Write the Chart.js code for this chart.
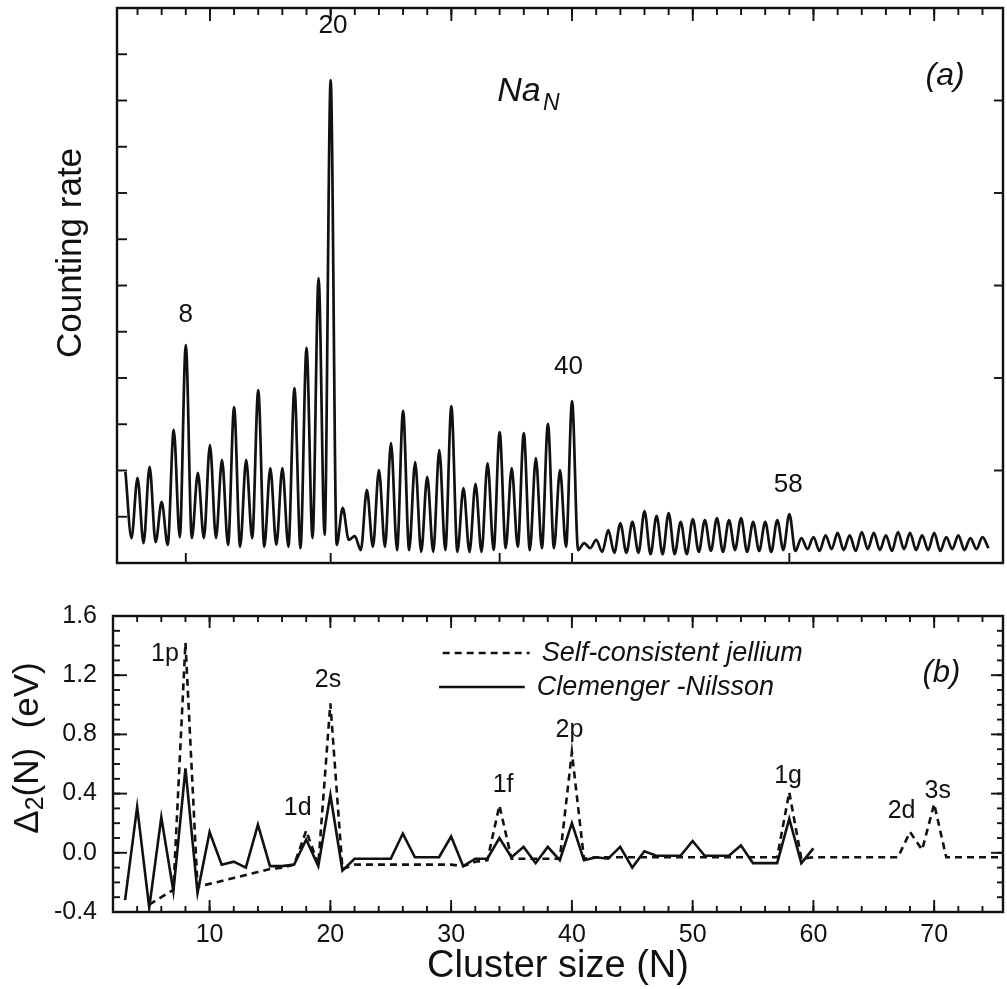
<!DOCTYPE html>
<html>
<head>
<meta charset="utf-8">
<script src="https://cdn.jsdelivr.net/npm/chart.js@4.4.1/dist/chart.umd.min.js"></script>
<style>
  html, body { margin: 0; padding: 0; background: #fff; }
  #wrap { position: relative; width: 1007px; height: 989px; }
  canvas { position: absolute; left: 0; }
  #spectrum { top: 0; }
  #gap { top: 585px; }
</style>
</head>
<body>
<div id="wrap">
  <canvas id="spectrum" width="1007" height="585"></canvas>
  <canvas id="gap" width="1007" height="404"></canvas>
</div>
<script>
// (a) mass spectrum of Na_N: one peak per cluster size, trough half way to the next
const sizes = [3, 4, 5, 6, 7, 8, 9, 10, 11, 12, 13, 14, 15, 16, 17, 18, 19, 20, 21, 22, 23, 24, 25, 26,
  27, 28, 29, 30, 31, 32, 33, 34, 35, 36, 37, 38, 39, 40, 41, 42, 43, 44, 45, 46, 47, 48, 49, 50,
  51, 52, 53, 54, 55, 56, 57, 58, 59, 60, 61, 62, 63, 64, 65, 66, 67, 68, 69, 70, 71, 72, 73, 74];
const peakRate = [1.97, 1.84, 2.08, 1.32, 2.88, 4.71, 1.95, 2.55, 2.23, 3.37, 2.23, 3.74, 2.05, 2.05,
  3.78, 4.65, 6.16, 10.44, 1.19, 0.58, 1.58, 2.01, 2.59, 3.29, 2.18, 1.86, 2.44, 3.39, 1.62, 1.71,
  2.16, 2.83, 2.05, 2.81, 2.27, 3.01, 2.01, 3.50, 0.43, 0.50, 0.71, 0.86, 0.89, 1.12, 1.02, 1.08,
  0.89, 0.95, 0.93, 0.97, 0.93, 0.97, 0.89, 0.89, 0.93, 1.06, 0.54, 0.56, 0.60, 0.65, 0.60, 0.67,
  0.65, 0.60, 0.67, 0.65, 0.60, 0.65, 0.56, 0.60, 0.54, 0.56];
const troughRate = [0.54, 0.43, 0.45, 0.39, 0.56, 0.54, 0.54, 0.54, 0.39, 0.35, 0.54, 0.35, 0.39, 0.35,
  0.32, 0.54, 0.61, 0.39, 0.50, 0.28, 0.35, 0.35, 0.28, 0.28, 0.24, 0.24, 0.28, 0.24, 0.24, 0.24,
  0.28, 0.32, 0.35, 0.28, 0.32, 0.32, 0.35, 0.28, 0.32, 0.24, 0.22, 0.22, 0.22, 0.19, 0.19, 0.19,
  0.19, 0.24, 0.26, 0.24, 0.28, 0.24, 0.26, 0.24, 0.28, 0.26, 0.30, 0.26, 0.30, 0.28, 0.26, 0.30,
  0.28, 0.26, 0.30, 0.28, 0.28, 0.26, 0.30, 0.28, 0.30, 0.32];
const magicSizes = [8, 20, 34, 40, 58];

// (b) Delta_2(N) in eV
const sizesCN = [3, 4, 5, 6, 7, 8, 9, 10, 11, 12, 13, 14, 15, 16, 17, 18, 19, 20, 21, 22, 23, 24, 25,
  26, 27, 28, 29, 30, 31, 32, 33, 34, 35, 36, 37, 38, 39, 40, 41, 42, 43, 44, 45, 46, 47, 48, 49,
  50, 51, 52, 53, 54, 55, 56, 57, 58, 59, 60];
const gapCN = [-0.32, 0.31, -0.37, 0.24, -0.26, 0.57, -0.27, 0.14, -0.08, -0.06, -0.10, 0.19, -0.09,
  -0.09, -0.08, 0.09, -0.09, 0.39, -0.12, -0.04, -0.04, -0.04, -0.04, 0.13, -0.03, -0.03, -0.03,
  0.11, -0.09, -0.04, -0.04, 0.10, -0.03, 0.04, -0.07, 0.04, -0.05, 0.20, -0.05, -0.03, -0.04,
  0.04, -0.10, 0.01, -0.02, -0.02, -0.02, 0.08, -0.02, -0.02, -0.02, 0.05, -0.07, -0.07, -0.07,
  0.23, -0.07, 0.03];
const sizesJellium = [5, 6, 7, 8, 9, 10, 11, 12, 13, 14, 15, 16, 17, 18, 19, 20, 21, 22, 23, 24, 25,
  26, 27, 28, 29, 30, 31, 32, 33, 34, 35, 36, 37, 38, 39, 40, 41, 42, 43, 44, 45, 46, 47, 48, 49,
  50, 51, 52, 53, 54, 55, 56, 57, 58, 59, 60, 61, 62, 63, 64, 65, 66, 67, 68, 69, 70, 71, 72, 73,
  74, 75, 76];
const gapJellium = [-0.35, -0.30, -0.25, 1.42, -0.23, -0.21, -0.19, -0.17, -0.15, -0.13, -0.11, -0.10,
  -0.08, 0.15, -0.08, 1.01, -0.11, -0.08, -0.08, -0.08, -0.08, -0.08, -0.08, -0.08, -0.08, -0.08,
  -0.09, -0.06, -0.05, 0.32, -0.04, -0.04, -0.04, -0.04, -0.04, 0.68, -0.04, -0.03, -0.03, -0.03,
  -0.03, -0.03, -0.03, -0.03, -0.03, -0.03, -0.03, -0.03, -0.03, -0.03, -0.03, -0.03, -0.03, 0.41,
  -0.04, -0.03, -0.03, -0.03, -0.03, -0.03, -0.03, -0.03, -0.03, 0.14, 0.02, 0.33, -0.03, -0.03,
  -0.03, -0.03, -0.03, -0.03];

const xTickValues = [10, 20, 30, 40, 50, 60, 70];
const yTickValues = [-0.4, 0.0, 0.4, 0.8, 1.2, 1.6];

const FONT = "'Liberation Sans', Arial, sans-serif";
const INK = '#111';

const range = (a, b, step) => {
  const out = [];
  for (let v = a; v <= b + 1e-9; v += step) out.push(Math.round(v * 100) / 100);
  return out;
};

// box round the plot area plus inward tick marks on all four edges
const frame = {
  id: 'frame',
  afterDatasetsDraw(chart, args, opts) {
    const { ctx, chartArea: a, scales: { x, y } } = chart;
    ctx.save();
    ctx.strokeStyle = INK;
    ctx.lineWidth = 2.4;
    ctx.strokeRect(a.left, a.top, a.right - a.left, a.bottom - a.top);
    ctx.lineWidth = 1.9;
    const line = (x1, y1, x2, y2) => {
      ctx.beginPath(); ctx.moveTo(x1, y1); ctx.lineTo(x2, y2); ctx.stroke();
    };
    for (const [vals, len] of opts.top || []) vals.forEach(v => { const p = x.getPixelForValue(v); line(p, a.top, p, a.top + len); });
    for (const [vals, len] of opts.bottom || []) vals.forEach(v => { const p = x.getPixelForValue(v); line(p, a.bottom, p, a.bottom - len); });
    for (const [vals, len] of opts.left || []) vals.forEach(v => { const p = y.getPixelForValue(v); line(a.left, p, a.left + len, p); });
    for (const [vals, len] of opts.right || []) vals.forEach(v => { const p = y.getPixelForValue(v); line(a.right, p, a.right - len, p); });
    ctx.restore();
  }
};

// free text placed in data coordinates, plus a rotated axis title
const annotate = {
  id: 'annotate',
  afterDraw(chart, args, opts) {
    const { ctx, scales: { x, y } } = chart;
    ctx.save();
    ctx.fillStyle = INK;
    for (const t of opts.texts || []) {
      ctx.font = t.font;
      ctx.textAlign = t.align || 'center';
      ctx.textBaseline = t.baseline || 'middle';
      ctx.fillText(t.text, x.getPixelForValue(t.n), y.getPixelForValue(t.v) + (t.dy || 0));
    }
    if (opts.side) {
      const s = opts.side;
      ctx.translate(s.x, s.y);
      ctx.rotate(-Math.PI / 2);
      ctx.textAlign = 'left';
      ctx.textBaseline = 'middle';
      let w = 0;
      s.parts.forEach(p => { ctx.font = p.font; w += ctx.measureText(p.text).width; });
      let cx = -w / 2;
      s.parts.forEach(p => {
        ctx.font = p.font;
        ctx.fillText(p.text, cx, p.dy || 0);
        cx += ctx.measureText(p.text).width;
      });
    }
    ctx.restore();
  }
};

// legend drawn inside the plot, using each dataset's own style and label
const innerLegend = {
  id: 'innerLegend',
  afterDraw(chart, args, opts) {
    const { ctx, scales: { x, y } } = chart;
    ctx.save();
    opts.rows.forEach(r => {
      const ds = chart.data.datasets[r.dataset];
      const py = y.getPixelForValue(r.v);
      ctx.strokeStyle = ds.borderColor;
      ctx.lineWidth = ds.borderWidth;
      ctx.setLineDash(ds.borderDash || []);
      ctx.beginPath();
      ctx.moveTo(x.getPixelForValue(r.from), py);
      ctx.lineTo(x.getPixelForValue(r.to), py);
      ctx.stroke();
      ctx.setLineDash([]);
      ctx.fillStyle = INK;
      ctx.font = opts.font;
      ctx.textAlign = 'left';
      ctx.textBaseline = 'middle';
      ctx.fillText(ds.label, x.getPixelForValue(r.text), py);
    });
    ctx.restore();
  }
};

const spectrumPoints = [];
sizes.forEach((n, i) => {
  spectrumPoints.push({ x: n, y: peakRate[i] });
  spectrumPoints.push({ x: n + 0.5, y: troughRate[i] });
});

new Chart(document.getElementById('spectrum'), {
  type: 'line',
  data: {
    datasets: [{
      data: spectrumPoints,
      borderColor: INK,
      borderWidth: 2.7,
      pointRadius: 0,
      cubicInterpolationMode: 'monotone',
      fill: false,
    }],
  },
  options: {
    responsive: false,
    animation: false,
    events: [],
    layout: { padding: { left: 117, top: 8, right: 4, bottom: 22 } },
    plugins: {
      legend: { display: false },
      tooltip: { enabled: false },
      frame: {
        top: [[range(4, 74, 2), 7], [xTickValues, 13]],
        bottom: [[magicSizes, 10]],
        left: [[range(1, 11, 1), 10]],
        right: [[range(2, 10, 2), 9]],
      },
      annotate: {
        texts: [
          { text: '8', n: 8.0, v: 5.36, font: `26px ${FONT}` },
          { text: '20', n: 20.2, v: 11.62, font: `26px ${FONT}` },
          { text: '40', n: 39.7, v: 4.24, font: `26px ${FONT}` },
          { text: '58', n: 57.9, v: 1.69, font: `26px ${FONT}` },
          { text: 'Na', n: 33.8, v: 9.99, font: `italic 34px ${FONT}`, align: 'left', baseline: 'alphabetic' },
          { text: 'N', n: 37.6, v: 9.99, dy: 9, font: `italic 23px ${FONT}`, align: 'left', baseline: 'alphabetic' },
          { text: '(a)', n: 70.9, v: 10.53, font: `italic 32px ${FONT}` },
        ],
        side: {
          x: 71, y: 253,
          parts: [{ text: 'Counting rate', font: `35px ${FONT}` }],
        },
      },
    },
    scales: {
      x: { type: 'linear', display: false, min: 2.3, max: 75.7 },
      y: { display: false, min: 0, max: 12 },
    },
  },
  plugins: [frame, annotate],
});

new Chart(document.getElementById('gap'), {
  type: 'line',
  data: {
    datasets: [
      {
        label: 'Self-consistent jellium',
        data: sizesJellium.map((n, i) => ({ x: n, y: gapJellium[i] })),
        borderColor: INK,
        borderWidth: 2.6,
        borderDash: [7, 5],
        pointRadius: 0,
        tension: 0,
      },
      {
        label: 'Clemenger -Nilsson',
        data: sizesCN.map((n, i) => ({ x: n, y: gapCN[i] })),
        borderColor: INK,
        borderWidth: 2.6,
        pointRadius: 0,
        tension: 0,
      },
    ],
  },
  options: {
    responsive: false,
    animation: false,
    events: [],
    layout: { padding: { left: 0, top: 26, right: 4, bottom: 0 } },
    plugins: {
      legend: { display: false },
      tooltip: { enabled: false },
      frame: {
        top: [[range(4, 74, 2), 6], [xTickValues, 12]],
        bottom: [[range(4, 74, 2), 6], [xTickValues, 12]],
        left: [[range(-0.3, 1.5, 0.1), 7], [yTickValues, 14]],
        right: [[range(-0.3, 1.5, 0.1), 6], [yTickValues, 12]],
      },
      innerLegend: {
        font: `italic 27px ${FONT}`,
        rows: [
          { dataset: 0, v: 1.35, from: 29.3, to: 36.5, text: 37.5 },
          { dataset: 1, v: 1.12, from: 29.0, to: 36.1, text: 37.1 },
        ],
      },
      annotate: {
        texts: [
          { text: '1p', n: 6.3, v: 1.34, font: `25px ${FONT}` },
          { text: '2s', n: 19.8, v: 1.17, font: `25px ${FONT}` },
          { text: '1d', n: 17.3, v: 0.30, font: `25px ${FONT}` },
          { text: '1f', n: 34.3, v: 0.46, font: `25px ${FONT}` },
          { text: '2p', n: 39.8, v: 0.83, font: `25px ${FONT}` },
          { text: '1g', n: 57.9, v: 0.52, font: `25px ${FONT}` },
          { text: '2d', n: 67.3, v: 0.28, font: `25px ${FONT}` },
          { text: '3s', n: 70.3, v: 0.42, font: `25px ${FONT}` },
          { text: '(b)', n: 70.6, v: 1.21, font: `italic 31px ${FONT}` },
        ],
        side: {
          x: 28, y: 163,
          parts: [
            { text: '\u0394', font: `35px ${FONT}` },
            { text: '2', font: `25px ${FONT}`, dy: 8 },
            { text: '(N)  (eV)', font: `35px ${FONT}` },
          ],
        },
      },
    },
    scales: {
      x: {
        type: 'linear',
        min: 2.0,
        max: 75.7,
        afterBuildTicks: s => { s.ticks = xTickValues.map(v => ({ value: v })); },
        afterFit: s => { s.height = 77; },
        ticks: {
          color: INK,
          font: { family: FONT, size: 25 },
          padding: 8,
          maxRotation: 0,
          autoSkip: false,
          callback: v => String(v),
        },
        grid: { display: false, drawTicks: false },
        border: { display: false },
        title: {
          display: true,
          text: 'Cluster size (N)',
          color: INK,
          font: { family: FONT, size: 38 },
          padding: { top: 0, bottom: 0 },
        },
      },
      y: {
        min: -0.4,
        max: 1.6,
        afterBuildTicks: s => { s.ticks = yTickValues.map(v => ({ value: v })); },
        afterFit: s => { s.width = 113; },
        ticks: {
          color: INK,
          font: { family: FONT, size: 25 },
          padding: 16,
          autoSkip: false,
          callback: v => v.toFixed(1),
        },
        grid: { display: false, drawTicks: false },
        border: { display: false },
      },
    },
  },
  plugins: [frame, annotate, innerLegend],
});
</script>
</body>
</html>
